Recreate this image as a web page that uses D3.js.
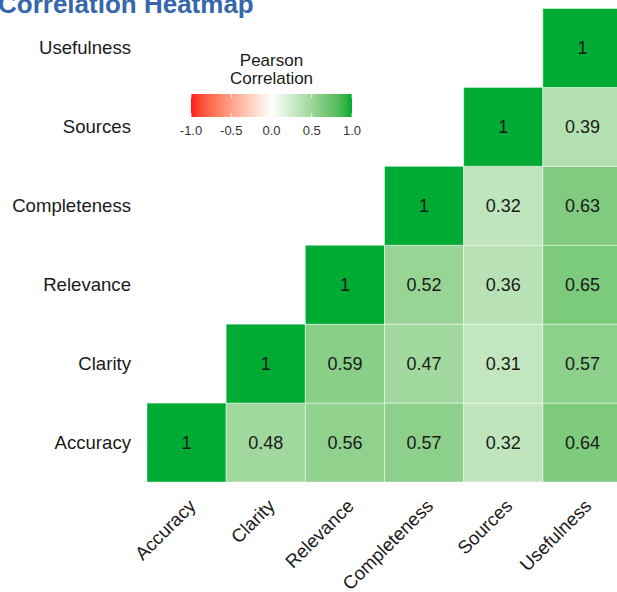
<!DOCTYPE html>
<html>
<head>
<meta charset="utf-8">
<script src="https://cdn.jsdelivr.net/npm/d3@7"></script>
<style>
  body { margin: 0; background: #fff; }
  svg { display: block; font-family: "Liberation Sans", Arial, sans-serif; }
</style>
</head>
<body>
<svg id="chart" width="617" height="592"></svg>
<script>
// Variables (x order left→right, y order bottom→top)
const variables = ['Accuracy', 'Clarity', 'Relevance', 'Completeness', 'Sources', 'Usefulness'];

// lower-triangle correlations, one array per row variable (starting at its own diagonal)
const accuracyRow = [1, 0.48, 0.56, 0.57, 0.32, 0.64];
const clarityRow = [1, 0.59, 0.47, 0.31, 0.57];
const relevanceRow = [1, 0.52, 0.36, 0.65];
const completenessRow = [1, 0.32, 0.63];
const sourcesRow = [1, 0.39];
const usefulnessRow = [1];

const legendTicks = [-1.0, -0.5, 0.0, 0.5, 1.0];

const rows = [accuracyRow, clarityRow, relevanceRow, completenessRow, sourcesRow, usefulnessRow];
const cells = [];
rows.forEach((row, i) => {
  row.forEach((v, k) => {
    cells.push({ y: variables[i], x: variables[i + k], value: v });
  });
});

const svg = d3.select('#chart');

const gridLeft = 147, gridRight = 622, gridTop = 8.5, gridBottom = 482;

const xScale = d3.scaleBand().domain(variables).range([gridLeft, gridRight]);
const yScale = d3.scaleBand().domain(variables).range([gridBottom, gridTop]);

const color = d3.scaleLinear()
  .domain([-1, 0, 1])
  .range(['#ff1a1a', '#ffffff', '#00ab33'])
  .interpolate(d3.interpolateLab);

// Title (partly cut off at the top)
svg.append('text')
  .attr('x', -2)
  .attr('y', 13)
  .attr('fill', '#3666ac')
  .attr('font-size', '26px')
  .attr('font-weight', 'bold')
  .text('Correlation Heatmap');

// Cells
svg.selectAll('.cell')
  .data(cells)
  .enter()
  .append('rect')
  .attr('class', 'cell')
  .attr('x', d => xScale(d.x))
  .attr('y', d => yScale(d.y))
  .attr('width', xScale.bandwidth())
  .attr('height', yScale.bandwidth())
  .attr('fill', d => color(d.value))
  .attr('stroke', 'rgba(255,255,255,0.45)')
  .attr('stroke-width', 1);

svg.selectAll('.cell-label')
  .data(cells)
  .enter()
  .append('text')
  .attr('class', 'cell-label')
  .attr('x', d => xScale(d.x) + xScale.bandwidth() / 2)
  .attr('y', d => yScale(d.y) + yScale.bandwidth() / 2)
  .attr('dy', '0.35em')
  .attr('text-anchor', 'middle')
  .attr('font-size', '18px')
  .attr('fill', '#1a1a1a')
  .text(d => d.value === 1 ? '1' : d.value.toFixed(2));

// Y axis labels
svg.selectAll('.y-label')
  .data(variables)
  .enter()
  .append('text')
  .attr('class', 'y-label')
  .attr('x', gridLeft - 16)
  .attr('y', d => yScale(d) + yScale.bandwidth() / 2)
  .attr('dy', '0.35em')
  .attr('text-anchor', 'end')
  .attr('font-size', '18.6px')
  .attr('fill', '#1a1a1a')
  .text(d => d);

// X axis labels, rotated 45 degrees
svg.selectAll('.x-label')
  .data(variables)
  .enter()
  .append('text')
  .attr('class', 'x-label')
  .attr('transform', d => 'translate(' + (xScale(d) + xScale.bandwidth() / 2 + 1) + ',' + (gridBottom + 16) + ') rotate(-45)')
  .attr('dy', '0.7em')
  .attr('text-anchor', 'end')
  .attr('font-size', '18.6px')
  .attr('fill', '#1a1a1a')
  .text(d => d);

// Legend
const legendX0 = 191, legendX1 = 352, legendY = 94, legendH = 23;
const legendScale = d3.scaleLinear().domain([-1, 1]).range([legendX0, legendX1]);

const defs = svg.append('defs');
const grad = defs.append('linearGradient').attr('id', 'legend-grad');
d3.range(0, 1.0001, 0.05).forEach(t => {
  grad.append('stop')
    .attr('offset', (t * 100) + '%')
    .attr('stop-color', color(-1 + 2 * t));
});

const legend = svg.append('g');
legend.append('text')
  .attr('x', (legendX0 + legendX1) / 2)
  .attr('y', 66)
  .attr('text-anchor', 'middle')
  .attr('font-size', '17px')
  .attr('fill', '#1a1a1a')
  .text('Pearson');
legend.append('text')
  .attr('x', (legendX0 + legendX1) / 2)
  .attr('y', 84)
  .attr('text-anchor', 'middle')
  .attr('font-size', '17px')
  .attr('fill', '#1a1a1a')
  .text('Correlation');

legend.append('rect')
  .attr('x', legendX0)
  .attr('y', legendY)
  .attr('width', legendX1 - legendX0)
  .attr('height', legendH)
  .attr('fill', 'url(#legend-grad)');

legend.selectAll('.tick-mark')
  .data(legendTicks)
  .enter()
  .append('g')
  .each(function (d) {
    const g = d3.select(this);
    const x = legendScale(d);
    g.append('line').attr('x1', x).attr('x2', x).attr('y1', legendY).attr('y2', legendY + 4)
      .attr('stroke', 'rgba(255,255,255,0.8)');
    g.append('line').attr('x1', x).attr('x2', x).attr('y1', legendY + legendH - 4).attr('y2', legendY + legendH)
      .attr('stroke', 'rgba(255,255,255,0.8)');
  });

legend.selectAll('.tick-label')
  .data(legendTicks)
  .enter()
  .append('text')
  .attr('x', d => legendScale(d))
  .attr('y', 135)
  .attr('text-anchor', 'middle')
  .attr('font-size', '13px')
  .attr('fill', '#333')
  .text(d => d.toFixed(1));
</script>
</body>
</html>
